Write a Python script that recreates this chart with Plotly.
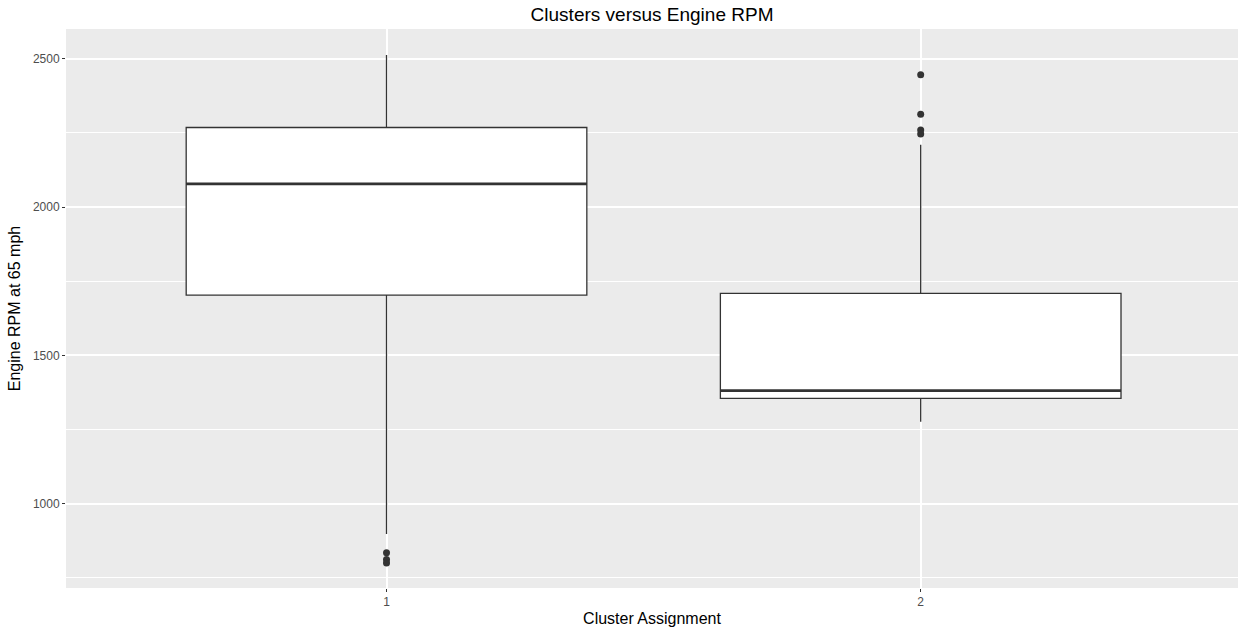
import plotly.graph_objects as go

clusters = [1, 2]
tick_labels = ["1", "2"]
q1 = [1703, 1355]
median = [2078, 1381]
q3 = [2268, 1709]
lower_fence = [898, 1276]
upper_fence = [2512, 2210]
outlier_x = [1, 1, 1, 2, 2, 2, 2]
outlier_y = [835, 812, 800, 2446, 2313, 2260, 2246]

box_width = 0.75
line_col = "#333333"

fig = go.Figure()
for i, c in enumerate(clusters):
    fig.add_trace(go.Box(
        x=[c], q1=[q1[i]], median=[median[i]], q3=[q3[i]],
        lowerfence=[lower_fence[i]], upperfence=[upper_fence[i]],
        width=box_width, whiskerwidth=0, boxpoints=False,
        fillcolor="white", line=dict(color=line_col, width=1.3),
        showlegend=False, hoverinfo="skip",
    ))
    fig.add_trace(go.Scatter(
        x=[c - box_width / 2, c + box_width / 2], y=[median[i], median[i]],
        mode="lines", line=dict(color=line_col, width=2.8),
        showlegend=False, hoverinfo="skip",
    ))

fig.add_trace(go.Scatter(
    x=outlier_x, y=outlier_y, mode="markers",
    marker=dict(color=line_col, size=7), showlegend=False,
))

fig.update_layout(
    width=1238, height=630,
    margin=dict(l=66, r=0, t=29, b=42),
    paper_bgcolor="white", plot_bgcolor="#ebebeb",
    title=dict(text="Clusters versus Engine RPM", x=0.5267, xanchor="center",
               xref="container", y=1 - 14 / 630, yanchor="middle",
               font=dict(family="Liberation Sans, Arial", size=19, color="black")),
    font=dict(family="Liberation Sans, Arial"),
    xaxis=dict(
        range=[0.4, 2.594], tickvals=clusters, ticktext=tick_labels,
        showgrid=True, gridcolor="white", gridwidth=1.5, zeroline=False,
        ticks="outside", ticklen=3, tickcolor=line_col, tickwidth=1,
        tickfont=dict(size=12, color="#4d4d4d"),
        title=dict(text="Cluster Assignment", font=dict(size=16, color="black"), standoff=4),
    ),
    yaxis=dict(
        range=[716, 2600], tickvals=[1000, 1500, 2000, 2500],
        showgrid=True, gridcolor="white", gridwidth=1.5, zeroline=False,
        ticks="outside", ticklen=3, tickcolor=line_col, tickwidth=1,
        tickfont=dict(size=12, color="#4d4d4d"),
        minor=dict(tickvals=[750, 1250, 1750, 2250], showgrid=True,
                   gridcolor="white", gridwidth=0.7, ticks=""),
        title=dict(text="Engine RPM at 65 mph", font=dict(size=16, color="black"), standoff=8),
    ),
)

fig.write_html("out.html", config={"displayModeBar": False},
               post_script="document.body.style.margin='0';")
